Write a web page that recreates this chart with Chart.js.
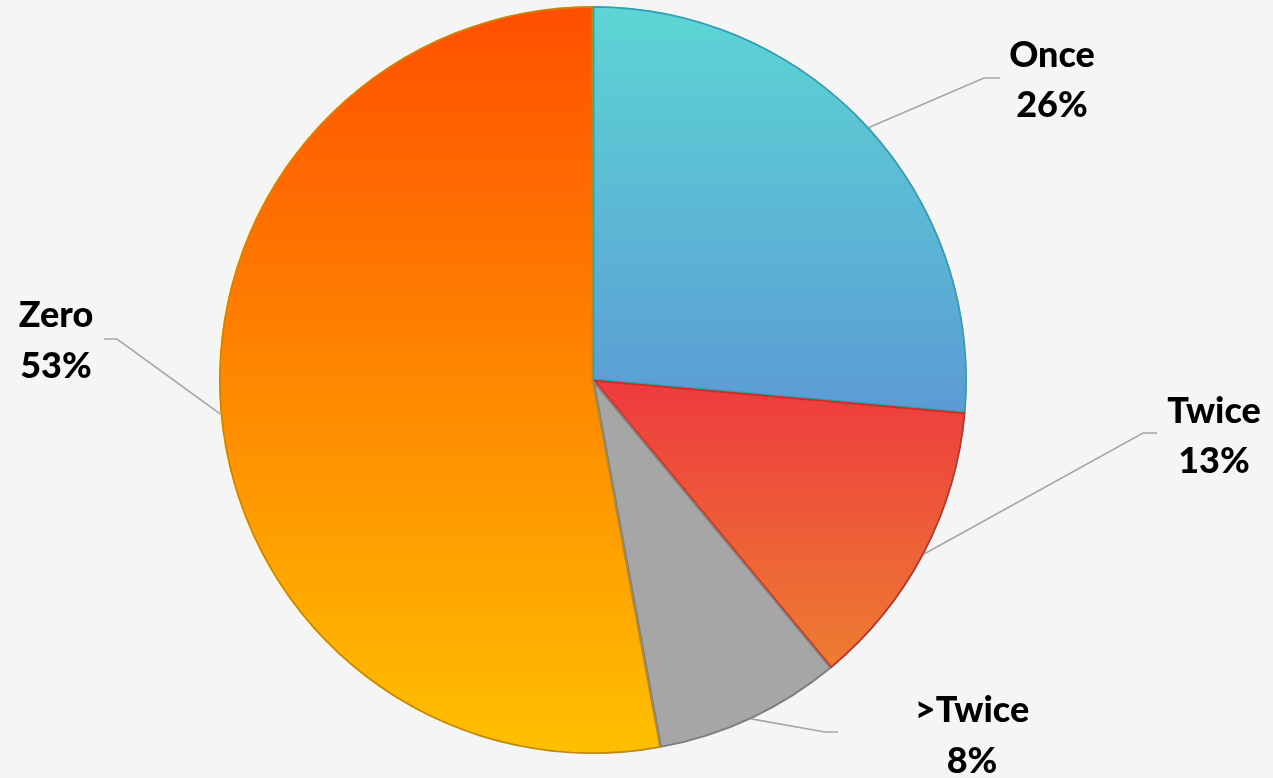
<!DOCTYPE html>
<html>
<head>
<meta charset="utf-8">
<script src="https://cdn.jsdelivr.net/npm/chart.js@4/dist/chart.umd.min.js"></script>
<style>
  html, body { margin: 0; padding: 0; background: #f5f5f5; }
  #wrap { width: 1273px; height: 778px; position: relative; }
</style>
</head>
<body>
<div id="wrap"><canvas id="c" width="1273" height="778"></canvas></div>
<script>
const categories = ['Once', 'Twice', '>Twice', 'Zero'];
const values = [26.4, 12.6, 8.1, 52.9];
const percentLabels = ['26%', '13%', '8%', '53%'];

const gradTop = ['#5cd6d4', '#ee3a3f', '#a6a6a6', '#ff4f00'];
const gradBottom = ['#5b9bd5', '#ed7d31', '#a6a6a6', '#ffc000'];
const borders = ['#2f9fb8', '#c8301f', '#7f7f7f', '#c08a10'];

// label layout: [elbowX, elbowY, endX, centerX, baseline1, baseline2]
const labelLayout = [
  [984, 78, 1000, 1052, 67, 117],
  [1143, 433, 1157, 1214, 423, 473],
  [825, 732, 838, 972, 722, 773],
  [117, 339, 104, 56, 327, 378]
];

const gradientPlugin = {
  id: 'sliceGradients',
  beforeDatasetsDraw(chart) {
    const ctx = chart.ctx;
    const meta = chart.getDatasetMeta(0);
    meta.data.forEach((arc, i) => {
      const p = arc.getProps(['x', 'y', 'startAngle', 'endAngle', 'outerRadius'], true);
      let minY = p.y, maxY = p.y;
      const n = 60;
      for (let k = 0; k <= n; k++) {
        const a = p.startAngle + (p.endAngle - p.startAngle) * k / n;
        const y = p.y + p.outerRadius * Math.sin(a);
        minY = Math.min(minY, y); maxY = Math.max(maxY, y);
      }
      const g = ctx.createLinearGradient(0, minY, 0, maxY);
      g.addColorStop(0, gradTop[i]);
      g.addColorStop(1, gradBottom[i]);
      arc.options.backgroundColor = g;
    });
  }
};

const labelPlugin = {
  id: 'outsideLabels',
  afterDatasetsDraw(chart) {
    const ctx = chart.ctx;
    const meta = chart.getDatasetMeta(0);
    ctx.save();
    meta.data.forEach((arc, i) => {
      const p = arc.getProps(['x', 'y', 'startAngle', 'endAngle', 'outerRadius'], true);
      const mid = (p.startAngle + p.endAngle) / 2;
      const sx = p.x + p.outerRadius * Math.cos(mid);
      const sy = p.y + p.outerRadius * Math.sin(mid);
      const L = labelLayout[i];
      ctx.strokeStyle = '#a6a6a6';
      ctx.lineWidth = 1.6;
      ctx.beginPath();
      ctx.moveTo(sx, sy);
      ctx.lineTo(L[0], L[1]);
      ctx.lineTo(L[2], L[1]);
      ctx.stroke();
      ctx.fillStyle = '#000';
      ctx.font = '900 36px Lato, "Open Sans", sans-serif';
      ctx.textAlign = 'center';
      ctx.textBaseline = 'alphabetic';
      ctx.fillText(categories[i], L[3], L[4]);
      ctx.fillText(percentLabels[i], L[3], L[5]);
    });
    ctx.restore();
  }
};

new Chart(document.getElementById('c'), {
  type: 'pie',
  data: {
    labels: categories,
    datasets: [{
      data: values,
      backgroundColor: gradTop,
      borderColor: borders,
      borderWidth: 1.5,
      borderAlign: 'inner'
    }]
  },
  options: {
    responsive: false,
    animation: false,
    layout: { padding: { top: 6, bottom: 24, left: 0, right: 87 } },
    plugins: {
      legend: { display: false },
      tooltip: { enabled: false }
    }
  },
  plugins: [gradientPlugin, labelPlugin]
});
</script>
</body>
</html>
